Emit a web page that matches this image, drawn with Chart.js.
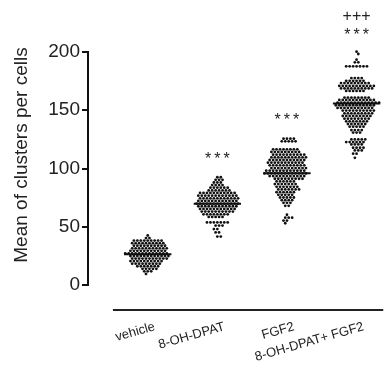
<!DOCTYPE html>
<html><head><meta charset="utf-8">
<script src="https://cdn.jsdelivr.net/npm/chart.js@4/dist/chart.umd.min.js"></script>
<style>html,body{margin:0;padding:0;background:#fff}#wrap{width:387px;height:366px}</style>
</head><body><div id="wrap"><canvas id="c" width="387" height="366"></canvas></div>
<script>
// ---------- data ----------
const categories = ['vehicle', '8-OH-DPAT', 'FGF2', '8-OH-DPAT+ FGF2'];
const yTicks = [0, 50, 100, 150, 200];
const yTitle = 'Mean of clusters per cells';

// each group: row values (y) and how many dots sit on that row
const vehicleRows   = [42.5, 40.3, 38.1, 35.9, 33.7, 31.5, 29.3, 27.1, 24.9, 22.7, 20.5, 18.3, 16.1, 13.9, 11.7, 9.5];
const vehicleCounts = [1, 2, 9, 10, 10, 11, 11, 13, 12, 11, 10, 9, 7, 5, 3, 1];

const dpatRows   = [92.5, 90.3, 88.0, 85.8, 83.5, 81.2, 79.0, 76.7, 74.4, 72.2, 69.9, 67.6, 65.3, 63.0, 60.7, 58.4, 53.7, 51.0, 48.0, 45.1, 41.6];
const dpatCounts = [2, 3, 3, 4, 6, 7, 11, 12, 12, 12, 13, 12, 11, 10, 8, 5, 7, 3, 2, 2, 2];

const fgf2Rows   = [125.6, 123.3, 116.5, 114.2, 111.9, 109.6, 107.3, 105.0, 102.7, 100.4, 98.1, 95.8, 93.5, 91.2, 88.9, 86.6, 84.3, 82.0, 79.7, 77.4, 75.1, 72.8, 70.5, 68.0, 60.3, 57.8, 55.3, 53.0];
const fgf2Counts = [4, 5, 8, 9, 10, 11, 11, 11, 11, 11, 12, 13, 11, 9, 6, 7, 7, 7, 6, 5, 5, 4, 3, 2, 1, 3, 2, 1];

const comboRows   = [200.3, 198.3, 193.4, 191.1, 187.7, 177.6, 175.3, 173.3, 170.9, 168.7, 166.6, 160.9, 158.9, 156.6, 154.3, 152.0, 149.7, 147.4, 145.1, 142.8, 140.5, 138.2, 135.9, 133.0, 130.8, 125.0, 122.7, 120.7, 117.8, 115.5, 112.7, 109.2];
const comboCounts = [1, 1, 1, 2, 7, 4, 6, 9, 11, 10, 6, 8, 11, 13, 12, 11, 10, 9, 9, 8, 7, 6, 5, 4, 3, 5, 6, 4, 4, 3, 2, 1];

const means = [26.3, 69.8, 96.0, 155.8];
const starText  = ['', '***', '***', '***'];
const starLevel = [null, 108, 141, 214];
const plusText  = ['', '', '', '+++'];
const plusLevel = [null, null, null, 230];

// ---------- build beeswarm points (rows centred on the category, alternate rows staggered) ----------
const groupRows = [vehicleRows, dpatRows, fgf2Rows, comboRows];
const groupCounts = [vehicleCounts, dpatCounts, fgf2Counts, comboCounts];
const PITCH = 3.5 / 70.5;   // horizontal spacing between neighbouring dots, in category units
function swarm(i) {
  const pts = [];
  groupRows[i].forEach((v, r) => {
    const n = groupCounts[i][r];
    const want = (r % 2) * 0.5;              // lattice phase of this row
    const have = ((n - 1) / 2) % 1;          // phase of a centred row
    let adj = 0;
    if (Math.abs(want - have) > 0.01) adj = (Math.floor(r / 2) % 2 === 0) ? 0.5 : -0.5;
    for (let k = 0; k < n; k++) pts.push({ x: i + (k - (n - 1) / 2 + adj) * PITCH, y: v });
  });
  return pts;
}
const datasets = [];
categories.forEach((c, i) => {
  datasets.push({
    type: 'scatter', label: c, data: swarm(i),
    pointRadius: 1.4, pointHoverRadius: 1.4, pointBackgroundColor: '#111', pointBorderWidth: 0,
    clip: false
  });
});
categories.forEach((c, i) => {
  datasets.push({
    type: 'line', label: c + ' mean',
    data: [{ x: i - 0.34, y: means[i] }, { x: i + 0.34, y: means[i] }],
    borderColor: '#111', borderWidth: 2, pointRadius: 0, fill: false, clip: false
  });
});

const FONT = "'Liberation Sans', Arial, sans-serif";

const decorations = {
  id: 'decorations',
  afterDraw(chart) {
    const { ctx, chartArea, scales: { x, y } } = chart;
    ctx.save();
    // detached x axis line
    ctx.strokeStyle = '#222';
    ctx.lineWidth = 2;
    ctx.beginPath();
    const ly = chartArea.bottom + 25;
    ctx.moveTo(x.getPixelForValue(-0.5), ly);
    ctx.lineTo(chartArea.right, ly);
    ctx.stroke();
    // significance marks
    ctx.fillStyle = '#222';
    ctx.textAlign = 'center';
    ctx.textBaseline = 'middle';
    categories.forEach((c, i) => {
      if (starText[i]) {
        ctx.font = '16px ' + FONT;
        ctx.letterSpacing = '3px';
        ctx.fillText(starText[i], x.getPixelForValue(i) + 1.5, y.getPixelForValue(starLevel[i]));
      }
      if (plusText[i]) {
        ctx.font = '16px ' + FONT;
        ctx.letterSpacing = '0px';
        ctx.fillText(plusText[i], x.getPixelForValue(i), y.getPixelForValue(plusLevel[i]));
      }
    });
    ctx.letterSpacing = '0px';
    // y axis title
    ctx.translate(22, 155);
    ctx.rotate(-Math.PI / 2);
    ctx.font = '19px ' + FONT;
    ctx.fillStyle = '#222';
    ctx.fillText(yTitle, 0, 0);
    ctx.restore();
  }
};

new Chart(document.getElementById('c'), {
  type: 'scatter',
  data: { datasets },
  options: {
    responsive: false, animation: false, devicePixelRatio: 1,
    layout: { padding: { top: 52, right: 0, bottom: 0, left: 0 } },
    plugins: { legend: { display: false }, tooltip: { enabled: false } },
    scales: {
      x: {
        type: 'linear', min: -0.858, max: 3.383,
        afterBuildTicks: s => { s.ticks = categories.map((c, i) => ({ value: i })); },
        afterFit: s => { s.height = 81; },
        grid: { display: false }, border: { display: false },
        ticks: {
          autoSkip: false, minRotation: 16, maxRotation: 16, padding: 26, labelOffset: 7,
          color: '#222', font: { size: 13, family: FONT },
          callback: v => categories[v] ?? ''
        }
      },
      y: {
        min: 0, max: 200,
        afterBuildTicks: s => { s.ticks = yTicks.map(v => ({ value: v })); },
        afterFit: s => { s.width = 88; },
        grid: { display: true, drawOnChartArea: false, drawTicks: true, tickLength: 6, color: '#111', lineWidth: 2 },
        border: { display: true, color: '#111', width: 2 },
        ticks: { color: '#222', padding: 2, font: { size: 19, family: FONT } }
      }
    }
  },
  plugins: [decorations]
});
</script></body></html>
